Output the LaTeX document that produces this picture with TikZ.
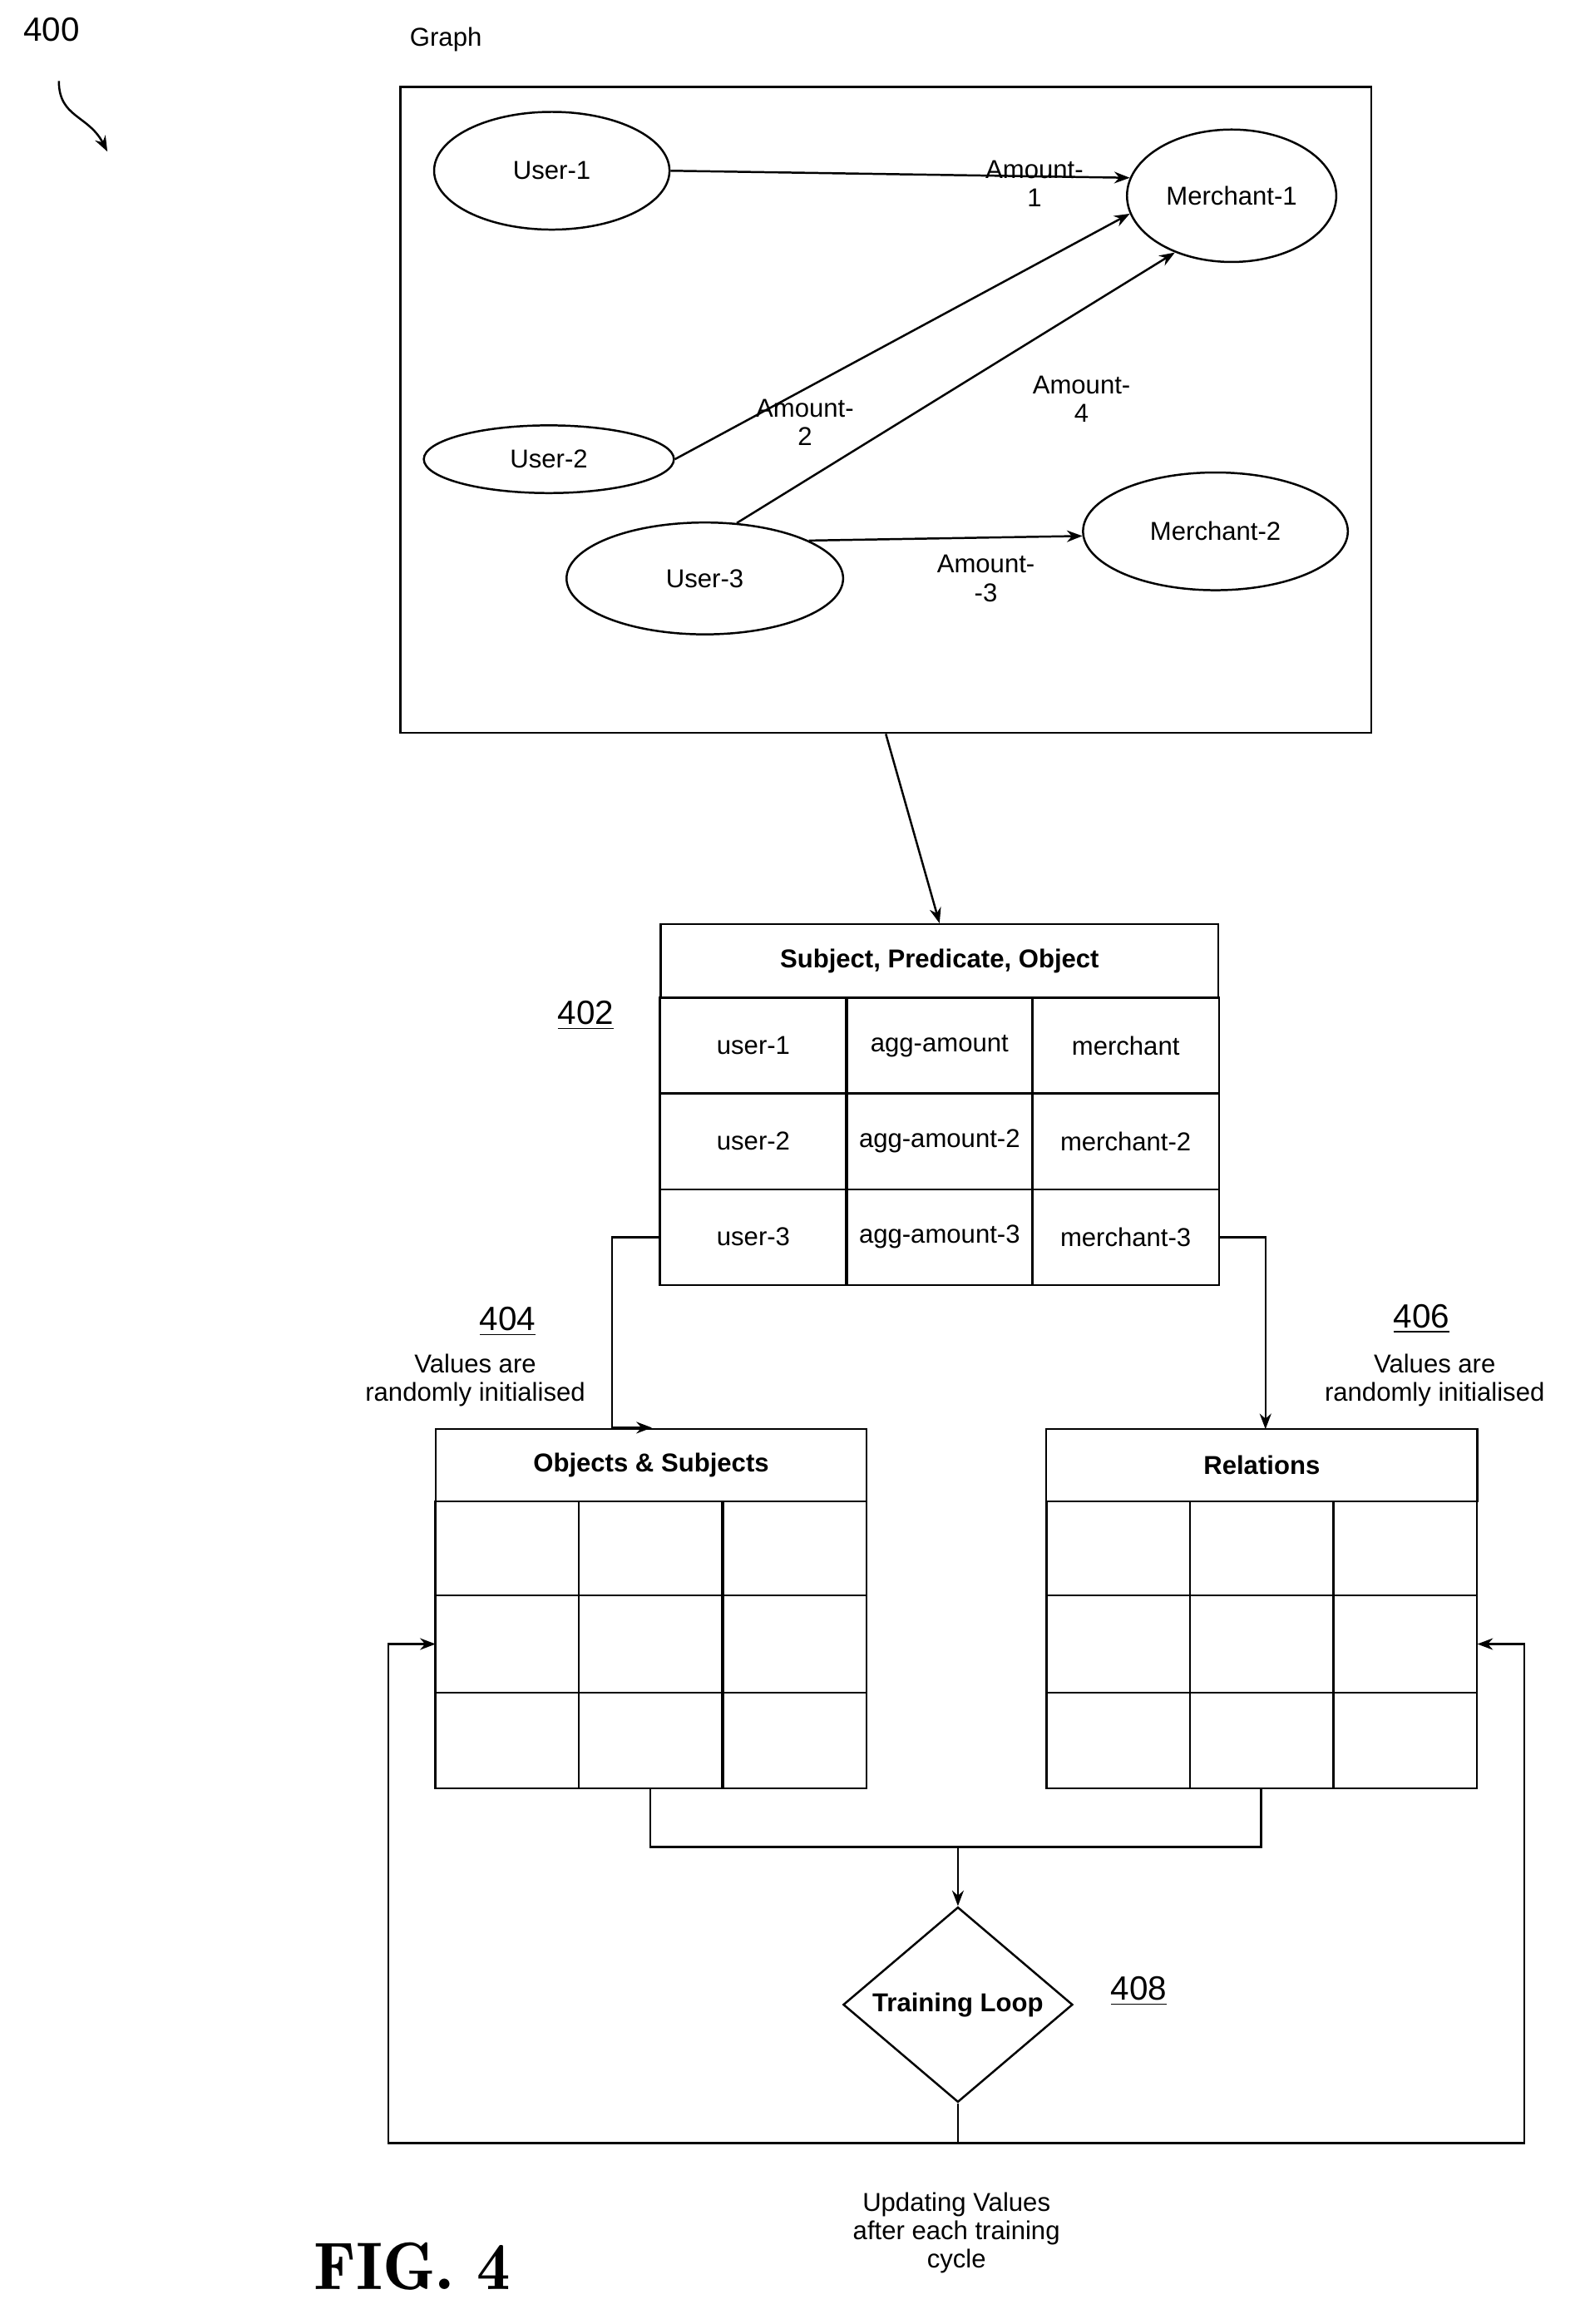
\documentclass[tikz,border=0pt]{standalone}
\usepackage{fontspec}
\setmainfont{Liberation Sans}
\usetikzlibrary{shapes.geometric,arrows.meta}
\begin{document}
\begin{tikzpicture}[x=0.02cm,y=-0.02cm,
    ent/.style={draw,ellipse,thick,font=\fontsize{10}{12}\selectfont},
    lbl/.style={align=center,font=\fontsize{10}{11}\selectfont},
    ref/.style={font=\fontsize{13}{14}\selectfont},
    cell/.style={draw,thick,minimum width=2.54cm,minimum height=1.3cm,inner sep=0pt,font=\fontsize{10}{12}\selectfont},
    arr/.style={-{Stealth[length=6pt]},thick}]
  \useasboundingbox (0,0) rectangle (1077,1579);

  % graph
  \node[font=\fontsize{10}{12}\selectfont] (gtitle) at (303,27) {Graph};
  \node[draw,thick,minimum width=13.2cm,minimum height=8.78cm] (graph) at (602,278.5) {};
  \node[ent,minimum width=3.2cm,minimum height=1.6cm] (u1) at (375,116) {User-1};
  \node[ent,minimum width=2.8cm,minimum height=1.8cm] (m1) at (837,133) {Merchant-1};
  \node[ent,minimum width=3.4cm,minimum height=0.92cm] (u2) at (373,312) {User-2};
  \node[ent,minimum width=3.76cm,minimum height=1.52cm] (u3) at (479,393) {User-3};
  \node[ent,minimum width=3.6cm,minimum height=1.6cm] (m2) at (826,361) {Merchant-2};
  \draw[arr] (u1.east) -- (m1.170);
  \draw[arr] (u2.east) -- (m1.190);
  \draw[arr] (u3.60) -- (m1.225);
  \draw[arr] (u3.20) -- (m2.182);
  \node[lbl] (a1) at (703,125) {Amount-\\1};
  \node[lbl] (a2) at (547,287) {Amount-\\2};
  \node[lbl] (a4) at (735,271) {Amount-\\4};
  \node[lbl] (a3) at (670,393) {Amount-\\-3};

  % triples table
  \node[cell,minimum width=7.58cm,minimum height=1cm,font=\bfseries\fontsize{10}{12}\selectfont] (spo) at (638.5,653) {Subject, Predicate, Object};
  \foreach \r/\y/\s/\p/\o in {1/710.5/user-1/agg-amount/merchant,
                              2/775.5/user-2/agg-amount-2/merchant-2,
                              3/840.5/user-3/agg-amount-3/merchant-3} {
    \node[cell] (s\r) at (512,\y) {\s};
    \node[cell] (p\r) at (638.5,\y) {\p};
    \node[cell] (o\r) at (765,\y) {\o};
  }
  \node[ref] (n402) at (398,690) {\underline{402}};
  \draw[arr] (graph.south) -- (spo.north);

  % embedding tables
  \node[cell,minimum width=5.86cm,minimum height=0.98cm,font=\bfseries\fontsize{10}{12}\selectfont] (os) at (442.5,995.5) {Objects \& Subjects};
  \node[cell,minimum width=5.86cm,minimum height=0.98cm,font=\bfseries\fontsize{10}{12}\selectfont] (rel) at (857.5,995.5) {Relations};
  \foreach \y/\h in {1052/1.28,1117/1.32,1182.5/1.3} {
    \foreach \x in {344.5,442,540} \node[cell,minimum width=1.95cm,minimum height=\h cm] at (\x,\y) {};
    \foreach \x in {760,857.5,955} \node[cell,minimum width=1.95cm,minimum height=\h cm] at (\x,\y) {};
  }
  \coordinate (osl) at (296,1117);
  \coordinate (relr) at (1004,1117);
  \coordinate (osb) at (442,1215);
  \coordinate (relb) at (857,1215);

  \node[ref] (n404) at (345,898) {\underline{404}};
  \node[lbl] (v404) at (323,938) {Values are\\randomly initialised};
  \node[ref] (n406) at (966,896) {\underline{406}};
  \node[lbl] (v406) at (975,938) {Values are\\randomly initialised};
  \draw[arr] (s3.west) -| (416,970) -- (443,970);
  \draw[arr] (o3.east) -| (860,971);

  % training loop
  \node[draw,thick,diamond,minimum width=3.12cm,minimum height=2.56cm,inner sep=0pt,font=\bfseries\fontsize{10}{12}\selectfont] (loop) at (651,1362) {Training Loop};
  \node[ref] (n408) at (774,1353) {\underline{408}};
  \draw[thick] (osb) |- (relb |- 0,1255) -- (relb);
  \draw[arr] (651,1255) -- (loop.north);
  \draw[thick] (loop.south) -- (651,1456);
  \draw[arr] (651,1456) -| (264,1117) -- (osl);
  \draw[arr] (651,1456) -| (1036,1117) -- (relr);
  \node[lbl] (upd) at (650,1517) {Updating Values\\after each training\\cycle};

  \node[font=\fontsize{13}{15}\selectfont] (n400) at (35,20) {400};
  \draw[arr] (40,55) .. controls (40,80) and (60,78) .. (73,103);
  \node[font=\fontfamily{lmr}\bfseries\fontsize{26}{28}\selectfont] (fig) at (280,1540) {FIG. 4};
\end{tikzpicture}
\end{document}
